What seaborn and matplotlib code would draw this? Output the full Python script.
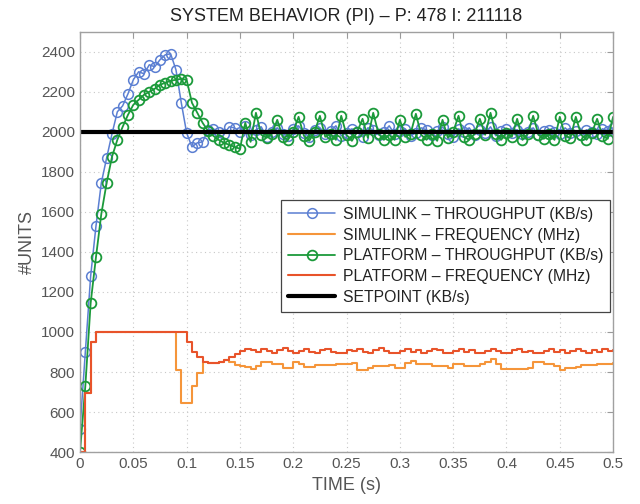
import numpy as np
import pandas as pd
import matplotlib
matplotlib.use("Agg")
import matplotlib.pyplot as plt
import seaborn as sns

# sample period of all logged series (s)
dt = 0.005

# SIMULINK throughput (KB/s)
sim_tput = [516, 900, 1280, 1530, 1745, 1870, 1990, 2100, 2130, 2190,
            2260, 2300, 2290, 2335, 2325, 2360, 2385, 2390, 2310, 2145,
            1995, 1925, 1945, 1950, 2010, 2015, 2000, 1990, 2025, 2020,
            2000, 2030, 1985, 2010, 2025, 1975, 2000, 2020, 1990, 1980,
            2015, 2030, 1995, 1975, 2010, 2020, 1990, 2005, 2030, 1980,
            1995, 2015, 2000, 1975, 2020, 2010, 1985, 2000, 2030, 1990,
            2005, 2015, 1980, 1995, 2020, 2010, 1985, 2005, 2025, 1990,
            1975, 2015, 2000, 2020, 1985, 2010, 1995, 2025, 1980, 2005,
            2015, 1995, 2010, 1990, 2000, 2020, 1985, 2005, 2010, 2000,
            1990, 2020, 1995, 2005, 1985, 2010, 2000, 1990, 2015, 2005,
            2020]

# PLATFORM throughput (KB/s)
plat_tput = [400, 730, 1145, 1375, 1590, 1745, 1875, 1960, 2025, 2085,
             2135, 2160, 2185, 2200, 2215, 2235, 2245, 2255, 2260, 2265,
             2260, 2145, 2095, 2045, 2005, 1980, 1960, 1945, 1935, 1925,
             1915, 2045, 1950, 2095, 1985, 1970, 1990, 2060, 1975, 1960,
             2000, 2075, 1980, 1955, 2000, 2080, 1975, 1990, 1960, 2080,
             1985, 1955, 2000, 2065, 1970, 2095, 1990, 1960, 1985, 1960,
             2060, 1975, 1990, 2090, 1985, 1960, 1990, 1955, 2060, 1970,
             2000, 2080, 1975, 1960, 1990, 2065, 1985, 2095, 1990, 1960,
             1995, 1975, 2065, 1960, 1990, 2080, 1985, 1965, 1990, 1960,
             2075, 1980, 1970, 2075, 1985, 1960, 1995, 2065, 1980, 1965,
             2075]

# SIMULINK frequency (MHz)
sim_freq = [400, 695, 950, 1000, 1000, 1000, 1000, 1000, 1000, 1000,
            1000, 1000, 1000, 1000, 1000, 1000, 1000, 1000, 810, 645,
            645, 730, 795, 850, 845, 845, 850, 860, 850, 835,
            830, 825, 813, 830, 852, 852, 840, 840, 820, 820,
            850, 840, 825, 825, 835, 835, 835, 835, 840, 840,
            840, 845, 808, 808, 820, 830, 830, 830, 835, 820,
            820, 845, 855, 840, 840, 840, 830, 830, 830, 820,
            840, 840, 830, 830, 830, 840, 850, 865, 840, 815,
            815, 815, 815, 815, 820, 850, 850, 840, 840, 830,
            812, 820, 820, 825, 835, 835, 835, 840, 840, 840,
            845]

# PLATFORM frequency (MHz)
plat_freq = [400, 695, 950, 1000, 1000, 1000, 1000, 1000, 1000, 1000,
             1000, 1000, 1000, 1000, 1000, 1000, 1000, 1000, 1000, 1000,
             950, 900, 875, 850, 845, 845, 850, 860, 875, 890,
             905, 915, 910, 900, 915, 905, 895, 910, 920, 905,
             895, 905, 915, 900, 895, 910, 915, 900, 895, 895,
             910, 905, 915, 900, 895, 910, 920, 905, 895, 895,
             905, 915, 900, 910, 895, 905, 915, 910, 895, 895,
             905, 915, 900, 910, 895, 895, 905, 915, 905, 895,
             895, 910, 915, 900, 905, 895, 895, 905, 915, 900,
             910, 895, 905, 915, 905, 895, 910, 900, 915, 905,
             910]

setpoint = 2000
t_end = 0.5


def frame(values, name):
    return pd.DataFrame({"time": np.arange(len(values)) * dt, "value": values, "series": name})


sns.set_style("white")
plt.rcParams["font.family"] = ["Liberation Sans", "DejaVu Sans"]

fig, ax = plt.subplots(figsize=(6.4, 5.04), dpi=100)
fig.subplots_adjust(left=0.125, right=0.958, bottom=0.103, top=0.937)

sns.lineplot(data=frame(sim_tput, "s"), x="time", y="value", ax=ax, color="#5b7fd2",
             marker="o", markersize=7, markerfacecolor="none", markeredgecolor="#5b7fd2",
             markeredgewidth=1.1, lw=1.1, label="SIMULINK \u2013 THROUGHPUT (KB/s)")
sns.lineplot(data=frame(sim_freq, "s"), x="time", y="value", ax=ax, color="#f5953a",
             drawstyle="steps-post", lw=1.5, label="SIMULINK \u2013 FREQUENCY (MHz)")
sns.lineplot(data=frame(plat_tput, "p"), x="time", y="value", ax=ax, color="#1b9a3a",
             marker="o", markersize=7, markerfacecolor="none", markeredgecolor="#1b9a3a",
             markeredgewidth=1.3, lw=1.3, label="PLATFORM \u2013 THROUGHPUT (KB/s)")
sns.lineplot(data=frame(plat_freq, "p"), x="time", y="value", ax=ax, color="#e8532a",
             drawstyle="steps-post", lw=1.5, label="PLATFORM \u2013 FREQUENCY (MHz)")
ax.plot([0, t_end], [setpoint, setpoint], color="black", lw=3, label="SETPOINT (KB/s)")

ax.set_xlim(0, 0.5)
ax.set_ylim(400, 2500)
ax.set_xticks(np.arange(0, 0.501, 0.05))
ax.set_xticklabels(["0", "0.05", "0.1", "0.15", "0.2", "0.25", "0.3", "0.35", "0.4", "0.45", "0.5"])
ax.set_yticks(np.arange(400, 2401, 200))

ax.grid(True, linestyle=(0, (1, 3)), color="#c8c8c8", lw=0.8)
ax.tick_params(direction="in", top=True, right=True, length=4, width=0.8,
               colors="#9a9a9a", labelcolor="#555555", labelsize=11)
for sp in ax.spines.values():
    sp.set_color("#a0a0a0")
    sp.set_linewidth(1)

ax.set_title("SYSTEM BEHAVIOR (PI) \u2013 P: 478 I: 211118", fontsize=13, color="#222222", pad=8)
ax.set_xlabel("TIME (s)", fontsize=13, color="#555555")
ax.set_ylabel("#UNITS", fontsize=13, color="#555555")

leg = ax.legend(loc="upper right", bbox_to_anchor=(0.995, 0.6), fontsize=11.3,
                frameon=True, fancybox=False, edgecolor="#444444", framealpha=1,
                handlelength=3.0, handletextpad=0.5, borderpad=0.45, labelspacing=0.36,
                borderaxespad=0)
leg.get_frame().set_linewidth(0.9)
for txt in leg.get_texts():
    txt.set_color("#222222")

fig.savefig("out.png", dpi=100)
